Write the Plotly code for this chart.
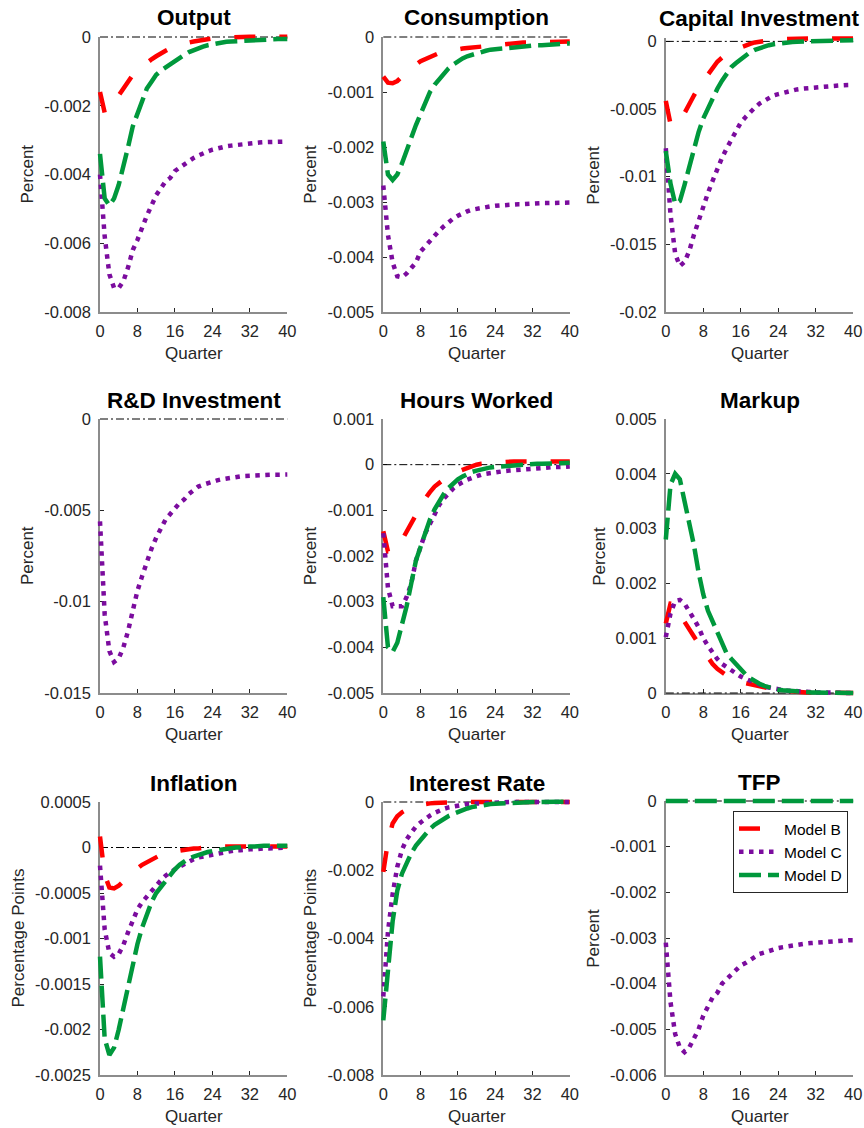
import plotly.graph_objects as go

W, H = 864, 1128

quarters = list(range(41))
x_tickvals = [0, 8, 16, 24, 32, 40]
x_ticktext = ["0", "8", "16", "24", "32", "40"]

model_names = {"B": "Model B", "C": "Model C", "D": "Model D"}

# ---- impulse responses, quarters 0..40 ----
output_b = [-0.0016, -0.0022, -0.0021, -0.0019, -0.0017, -0.0015, -0.0013, -0.0011, -0.00097, -0.00085,
            -0.00074, -0.00065, -0.00056, -0.00047, -0.0004, -0.00033, -0.00028, -0.00023, -0.00019, -0.00016,
            -0.00013, -0.0001, -0.00008, -0.00006, -0.00004, -0.00003, -0.00002, -0.00001, 0.0, 0.00001,
            0.00001, 0.00001, 0.00001, 0.00001, 0.00001, 0.00001, 0.00001, 0.00001, 0.00001, 0.00001,
            0.00001]
output_c = [-0.0040, -0.0058, -0.0069, -0.0073, -0.0073, -0.0071, -0.0067, -0.0062, -0.0059, -0.0055,
            -0.0052, -0.0049, -0.0046, -0.0044, -0.0042, -0.0041, -0.0039, -0.0038, -0.0037, -0.0036,
            -0.00352, -0.00345, -0.00338, -0.00333, -0.00328, -0.00324, -0.0032, -0.00318, -0.00316, -0.00314,
            -0.00312, -0.0031, -0.00309, -0.00308, -0.00307, -0.00306, -0.00306, -0.00305, -0.00305, -0.00305,
            -0.00304]
output_d = [-0.0034, -0.0047, -0.0049, -0.0047, -0.0043, -0.0038, -0.0032, -0.0026, -0.0022, -0.0018,
            -0.0015, -0.0013, -0.0011, -0.00098, -0.00088, -0.00078, -0.0007, -0.00061, -0.00052, -0.00044,
            -0.00038, -0.00032, -0.00028, -0.00024, -0.00021, -0.00018, -0.00016, -0.00014, -0.00013, -0.00012,
            -0.00011, -0.0001, -0.00009, -0.00008, -0.00008, -0.00007, -0.00007, -0.00007, -0.00006, -0.00006,
            -0.00006]

consumption_b = [-0.00072, -0.00083, -0.00084, -0.0008, -0.00072, -0.00064, -0.00057, -0.0005, -0.00044, -0.0004,
                 -0.00036, -0.00032, -0.00029, -0.00027, -0.00025, -0.00023, -0.00022, -0.00021, -0.0002, -0.00019,
                 -0.00018, -0.00017, -0.00016, -0.00015, -0.00014, -0.00013, -0.00013, -0.00012, -0.00011, -0.00011,
                 -0.0001, -0.0001, -0.0001, -0.00009, -0.00009, -0.00009, -0.00009, -0.00008, -0.00008, -0.00008,
                 -0.00008]
consumption_c = [-0.0027, -0.0036, -0.0041, -0.00435, -0.00437, -0.0043, -0.0042, -0.0041, -0.0039, -0.0038,
                 -0.0037, -0.0036, -0.00352, -0.00344, -0.00336, -0.0033, -0.00325, -0.0032, -0.00317, -0.00314,
                 -0.00312, -0.0031, -0.00309, -0.00308, -0.00307, -0.00306, -0.00305, -0.00305, -0.00304, -0.00304,
                 -0.00304, -0.00303, -0.00303, -0.00303, -0.00302, -0.00302, -0.00302, -0.00301, -0.00301, -0.00301,
                 -0.00301]
consumption_d = [-0.0019, -0.0025, -0.0026, -0.0025, -0.0023, -0.00205, -0.0018, -0.0016, -0.0014, -0.00118,
                 -0.001, -0.00087, -0.00076, -0.00066, -0.00057, -0.0005, -0.00044, -0.00039, -0.00035, -0.00032,
                 -0.00029, -0.00027, -0.00025, -0.00023, -0.00022, -0.00021, -0.0002, -0.00019, -0.00018, -0.00018,
                 -0.00017, -0.00016, -0.00016, -0.00015, -0.00015, -0.00014, -0.00014, -0.00013, -0.00013, -0.00012,
                 -0.00012]

capital_b = [-0.0044, -0.0061, -0.0062, -0.0059, -0.0053, -0.0046, -0.004, -0.0034, -0.0029, -0.0024,
             -0.0019, -0.0015, -0.0012, -0.00095, -0.00075, -0.00058, -0.00043, -0.0003, -0.00019, -0.00008,
             -0.00001, 0.00004, 0.00008, 0.00012, 0.00015, 0.00017, 0.00019, 0.0002, 0.00021, 0.00022,
             0.00022, 0.00022, 0.00022, 0.00022, 0.00022, 0.00022, 0.00022, 0.00022, 0.00022, 0.00022,
             0.00022]
capital_c = [-0.0079, -0.0128, -0.0157, -0.0166, -0.0163, -0.0155, -0.0143, -0.0132, -0.0122, -0.0112,
             -0.0103, -0.0094, -0.0086, -0.0079, -0.0073, -0.0066, -0.006, -0.0056, -0.0052, -0.0049,
             -0.0046, -0.0044, -0.0042, -0.0040, -0.0039, -0.0038, -0.0037, -0.0036, -0.00355, -0.0035,
             -0.00346, -0.00342, -0.00338, -0.00335, -0.00332, -0.0033, -0.00328, -0.00326, -0.00324, -0.00323,
             -0.00322]
capital_d = [-0.0081, -0.0105, -0.0120, -0.0118, -0.0106, -0.0093, -0.0079, -0.0067, -0.0057, -0.0049,
             -0.0041, -0.0035, -0.0029, -0.0024, -0.0019, -0.0016, -0.0013, -0.001, -0.0008, -0.00062,
             -0.00048, -0.00037, -0.00028, -0.00021, -0.00015, -0.0001, -0.00007, -0.00004, -0.00002, -0.00001,
             0.0, 0.00002, 0.00003, 0.00004, 0.00005, 0.00006, 0.00006, 0.00007, 0.00007, 0.00008,
             0.00008]

rnd_c = [-0.0056, -0.0107, -0.0127, -0.0133, -0.0131, -0.0125, -0.0116, -0.0105, -0.0094, -0.0086,
         -0.0078, -0.0071, -0.0065, -0.006, -0.0055, -0.0052, -0.0049, -0.0046, -0.0044, -0.0041,
         -0.0039, -0.0037, -0.0036, -0.0035, -0.00343, -0.00336, -0.0033, -0.00325, -0.0032, -0.00317,
         -0.00314, -0.00312, -0.0031, -0.00309, -0.00308, -0.00307, -0.00306, -0.00305, -0.00305, -0.00304,
         -0.00304]

hours_b = [-0.00146, -0.0019, -0.0019, -0.0018, -0.00165, -0.00148, -0.0013, -0.0011, -0.00088, -0.00072,
           -0.0006, -0.00048, -0.00039, -0.00031, -0.00024, -0.00019, -0.00015, -0.0001, -0.00006, -0.00003,
           0.0, 0.00002, 0.00003, 0.00004, 0.00005, 0.00006, 0.00006, 0.00007, 0.00007, 0.00007,
           0.00007, 0.00007, 0.00007, 0.00007, 0.00007, 0.00007, 0.00007, 0.00007, 0.00007, 0.00007,
           0.00007]
hours_c = [-0.0015, -0.0027, -0.0031, -0.0031, -0.0031, -0.0029, -0.0026, -0.0021, -0.0018, -0.0015,
           -0.0013, -0.00106, -0.00088, -0.00074, -0.00062, -0.00052, -0.00044, -0.00038, -0.00033, -0.00029,
           -0.00025, -0.00022, -0.0002, -0.00018, -0.00016, -0.00015, -0.00014, -0.00013, -0.00012, -0.00011,
           -0.0001, -0.00009, -0.00008, -0.00008, -0.00007, -0.00006, -0.00006, -0.00005, -0.00005, -0.00004,
           -0.00004]
hours_d = [-0.0029, -0.004, -0.0041, -0.0039, -0.0035, -0.0031, -0.0026, -0.0021, -0.0018, -0.0015,
           -0.0012, -0.00098, -0.0008, -0.00064, -0.00051, -0.0004, -0.00032, -0.00026, -0.0002, -0.00016,
           -0.00013, -0.0001, -0.00008, -0.00006, -0.00005, -0.00004, -0.00003, -0.00002, -0.00001, 0.0,
           0.0, 0.00001, 0.00001, 0.00002, 0.00002, 0.00002, 0.00003, 0.00003, 0.00003, 0.00004,
           0.00004]

markup_b = [0.00127, 0.00163, 0.00162, 0.00148, 0.0013, 0.00115, 0.00103, 0.0009, 0.00077, 0.00063,
            0.00053, 0.00044, 0.00037, 0.00032, 0.00027, 0.00023, 0.0002, 0.00018, 0.00016, 0.00013,
            0.00011, 0.00009, 0.00008, 0.00006, 0.00005, 0.00004, 0.00003, 0.00003, 0.00002, 0.00002,
            0.00001, 0.00001, 0.00001, 0.00001, 0.00001, 0.0, 0.0, 0.0, 0.0, 0.0,
            0.0]
markup_c = [0.00102, 0.00145, 0.00168, 0.0017, 0.00163, 0.0015, 0.00135, 0.0012, 0.001, 0.00086,
            0.00073, 0.00062, 0.00053, 0.00047, 0.00041, 0.00035, 0.0003, 0.00026, 0.00022, 0.00018,
            0.00015, 0.00012, 0.0001, 0.00008, 0.00007, 0.00005, 0.00004, 0.00004, 0.00003, 0.00002,
            0.00002, 0.00001, 0.00001, 0.00001, 0.00001, 0.0, 0.0, 0.0, 0.0, 0.0,
            0.0]
markup_d = [0.0028, 0.0038, 0.004, 0.0039, 0.0035, 0.0031, 0.0027, 0.0022, 0.0018, 0.0015,
            0.0013, 0.0011, 0.00087, 0.00072, 0.00062, 0.00052, 0.00043, 0.00034, 0.00027, 0.00021,
            0.00017, 0.00013, 0.0001, 0.00008, 0.00006, 0.00005, 0.00004, 0.00003, 0.00003, 0.00002,
            0.00002, 0.00001, 0.00001, 0.00001, 0.00001, 0.00001, 0.0, 0.0, 0.0, 0.0,
            0.0]

inflation_b = [0.00012, -0.0003, -0.00044, -0.00045, -0.00042, -0.00037, -0.00032, -0.00027, -0.00023, -0.00019,
               -0.00016, -0.00013, -0.0001, -0.00008, -0.00006, -0.00005, -0.00004, -0.00003, -0.00002, -0.00002,
               -0.00001, -0.00001, 0.0, 0.0, 0.00001, 0.00001, 0.00001, 0.00001, 0.00001, 0.00001,
               0.00001, 0.00001, 0.00001, 0.00001, 0.00001, 0.00001, 0.00001, 0.00001, 0.00001, 0.00001,
               0.00001]
inflation_c = [-0.0002, -0.0009, -0.00116, -0.0012, -0.00117, -0.00107, -0.00093, -0.00079, -0.00068, -0.0006,
               -0.00054, -0.00048, -0.00041, -0.00036, -0.00031, -0.00027, -0.00024, -0.00021, -0.00018, -0.00015,
               -0.00013, -0.00011, -0.0001, -0.00008, -0.00007, -0.00006, -0.00005, -0.00004, -0.00004, -0.00003,
               -0.00003, -0.00002, -0.00002, -0.00002, -0.00001, -0.00001, -0.00001, -0.00001, 0.0, 0.0,
               0.0]
inflation_d = [-0.0012, -0.0021, -0.00228, -0.0022, -0.002, -0.00177, -0.0015, -0.00126, -0.00106, -0.00088,
               -0.00073, -0.0006, -0.0005, -0.00043, -0.00036, -0.0003, -0.00024, -0.00019, -0.00015, -0.00012,
               -0.0001, -0.00008, -0.00006, -0.00005, -0.00004, -0.00003, -0.00002, -0.00001, -0.00001, 0.0,
               0.0, 0.00001, 0.00001, 0.00001, 0.00002, 0.00002, 0.00002, 0.00002, 0.00002, 0.00002,
               0.00002]

interest_b = [-0.00205, -0.00115, -0.00063, -0.00042, -0.0003, -0.00022, -0.00015, -0.0001, -0.00007, -0.00005,
              -0.00004, -0.00003, -0.00002, -0.00002, -0.00001, -0.00001, 0.0, 0.0, 0.0, 0.0,
              0.0, 0.0, 0.0, 0.0, 0.0, 0.0, 0.0, 0.0, 0.0, 0.0,
              0.0, 0.0, 0.0, 0.0, 0.0, 0.0, 0.0, 0.0, 0.0, 0.0,
              0.0]
interest_c = [-0.0057, -0.0038, -0.0027, -0.0019, -0.0014, -0.0011, -0.0009, -0.00072, -0.0006, -0.00049,
              -0.0004, -0.00032, -0.00025, -0.0002, -0.00016, -0.00013, -0.0001, -0.00008, -0.00006, -0.00005,
              -0.00004, -0.00003, -0.00002, -0.00002, -0.00001, -0.00001, 0.0, 0.0, 0.0, 0.0,
              0.0, 0.0, 0.0, 0.0, 0.0, 0.0, 0.0, 0.0, 0.0, 0.0,
              0.0]
interest_d = [-0.0064, -0.0048, -0.0035, -0.0026, -0.0021, -0.0018, -0.0015, -0.00128, -0.0011, -0.00093,
              -0.00079, -0.00067, -0.00057, -0.00048, -0.00041, -0.00035, -0.00029, -0.00024, -0.00019, -0.00015,
              -0.00012, -0.00009, -0.00007, -0.00006, -0.00005, -0.00004, -0.00003, -0.00002, -0.00002, -0.00001,
              -0.00001, 0.0, 0.0, 0.0, 0.00001, 0.00001, 0.00001, 0.00001, 0.00001, 0.00001,
              0.00001]

tfp_c = [-0.0031, -0.0044, -0.0051, -0.0054, -0.0055, -0.0054, -0.0052, -0.005, -0.0047, -0.0045,
         -0.0043, -0.0042, -0.004, -0.0039, -0.0038, -0.0037, -0.0036, -0.00355, -0.00348, -0.0034,
         -0.00335, -0.00332, -0.00328, -0.00325, -0.00322, -0.0032, -0.00318, -0.00316, -0.00314, -0.00313,
         -0.00312, -0.00311, -0.0031, -0.00309, -0.00308, -0.00307, -0.00307, -0.00306, -0.00306, -0.00305,
         -0.00305]
tfp_d = [0.0] * 41

# ---- panel definitions ----
panels = [
    dict(title="Output", ylabel="Percent", yrange=(-0.008, 0.0),
         yticks=[-0.008, -0.006, -0.004, -0.002, 0], yticktext=["-0.008", "-0.006", "-0.004", "-0.002", "0"],
         series={"B": output_b, "C": output_c, "D": output_d}),
    dict(title="Consumption", ylabel="Percent", yrange=(-0.005, 0.0),
         yticks=[-0.005, -0.004, -0.003, -0.002, -0.001, 0],
         yticktext=["-0.005", "-0.004", "-0.003", "-0.002", "-0.001", "0"],
         series={"B": consumption_b, "C": consumption_c, "D": consumption_d}),
    dict(title="Capital Investment", ylabel="Percent", yrange=(-0.02, 0.00025),
         yticks=[-0.02, -0.015, -0.01, -0.005, 0], yticktext=["-0.02", "-0.015", "-0.01", "-0.005", "0"],
         series={"B": capital_b, "C": capital_c, "D": capital_d}),
    dict(title="R&D Investment", ylabel="Percent", yrange=(-0.015, 0.0),
         yticks=[-0.015, -0.01, -0.005, 0], yticktext=["-0.015", "-0.01", "-0.005", "0"],
         series={"C": rnd_c}),
    dict(title="Hours Worked", ylabel="Percent", yrange=(-0.005, 0.001),
         yticks=[-0.005, -0.004, -0.003, -0.002, -0.001, 0, 0.001],
         yticktext=["-0.005", "-0.004", "-0.003", "-0.002", "-0.001", "0", "0.001"],
         series={"B": hours_b, "C": hours_c, "D": hours_d}),
    dict(title="Markup", ylabel="Percent", yrange=(0.0, 0.005),
         yticks=[0, 0.001, 0.002, 0.003, 0.004, 0.005],
         yticktext=["0", "0.001", "0.002", "0.003", "0.004", "0.005"],
         series={"B": markup_b, "C": markup_c, "D": markup_d}),
    dict(title="Inflation", ylabel="Percentage Points", yrange=(-0.0025, 0.0005),
         yticks=[-0.0025, -0.002, -0.0015, -0.001, -0.0005, 0, 0.0005],
         yticktext=["-0.0025", "-0.002", "-0.0015", "-0.001", "-0.0005", "0", "0.0005"],
         series={"B": inflation_b, "C": inflation_c, "D": inflation_d}),
    dict(title="Interest Rate", ylabel="Percentage Points", yrange=(-0.008, 0.0),
         yticks=[-0.008, -0.006, -0.004, -0.002, 0], yticktext=["-0.008", "-0.006", "-0.004", "-0.002", "0"],
         series={"B": interest_b, "C": interest_c, "D": interest_d}),
    dict(title="TFP", ylabel="Percent", yrange=(-0.006, 0.0),
         yticks=[-0.006, -0.005, -0.004, -0.003, -0.002, -0.001, 0],
         yticktext=["-0.006", "-0.005", "-0.004", "-0.003", "-0.002", "-0.001", "0"],
         series={"C": tfp_c, "D": tfp_d}),
]

# axes boxes in pixels: (left, top, right, bottom), plus y-label offset from the spine
boxes = [
    (100, 37, 287.3, 312), (383.3, 37, 569.8, 312), (665.8, 38, 853.2, 312),
    (100, 419, 287.3, 693), (383.3, 419, 569.8, 693), (665.8, 419, 853.2, 693),
    (100, 802, 287.3, 1075), (383.3, 802, 569.8, 1075), (665.8, 801, 853.2, 1075),
]
ylabel_offsets = [73, 73, 73, 73, 73, 67, 82, 73, 73]

styles = {
    "B": dict(color="#FF0000", width=4.5, dash="21px,24px"),
    "C": dict(color="#7B0C9E", width=4.5, dash="4.5px,5.5px"),
    "D": dict(color="#00983C", width=4.5, dash="22px,7px"),
}

FONT = "Liberation Sans, Arial, Helvetica, sans-serif"
PAD = 6  # extra room so thick lines at the axis limits are not cut in half


def px_x(x):
    return x / W


def px_y(y):
    return 1 - y / H


fig = go.Figure()
layout = {}
annotations = []

for k, (panel, box, yoff) in enumerate(zip(panels, boxes, ylabel_offsets), start=1):
    L, T, R, B = box
    y0, y1 = panel["yrange"]
    sx = 40 / (R - L)
    sy = (y1 - y0) / (B - T)

    # visible axes: spines, ticks and tick labels
    xk = "xaxis" if k == 1 else f"xaxis{k}"
    yk = "yaxis" if k == 1 else f"yaxis{k}"
    xa = "x" if k == 1 else f"x{k}"
    ya = "y" if k == 1 else f"y{k}"
    common = dict(showgrid=False, zeroline=False, showline=True, linecolor="#8c8c8c", linewidth=1.5,
                  ticks="inside", ticklen=4, tickwidth=1, tickcolor="#262626", automargin=False,
                  tickfont=dict(family=FONT, size=16.5, color="#262626"), fixedrange=True)
    layout[xk] = dict(domain=[px_x(L), px_x(R)], range=[0, 40], anchor=ya, ticklabelstandoff=3,
                      tickmode="array", tickvals=x_tickvals, ticktext=x_ticktext, **common)
    layout[yk] = dict(domain=[px_y(B), px_y(T)], range=[y0, y1], anchor=xa, ticklabelstandoff=4,
                      tickmode="array", tickvals=panel["yticks"], ticktext=panel["yticktext"], **common)
    # an empty trace so the axes frame is drawn
    fig.add_trace(go.Scatter(x=[], y=[], mode="lines", xaxis=xa, yaxis=ya,
                             showlegend=False, hoverinfo="skip"))

    # hidden data axes, same scale but a little larger so line caps stay whole
    d = k + 9
    layout[f"xaxis{d}"] = dict(domain=[px_x(L - PAD), px_x(R + PAD)], range=[-PAD * sx, 40 + PAD * sx],
                               anchor=f"y{d}", visible=False, fixedrange=True, automargin=False)
    layout[f"yaxis{d}"] = dict(domain=[px_y(B + PAD), px_y(T - PAD)], range=[y0 - PAD * sy, y1 + PAD * sy],
                               anchor=f"x{d}", visible=False, fixedrange=True, automargin=False)

    # zero reference line
    fig.add_trace(go.Scatter(x=[0, 40], y=[0, 0], mode="lines", xaxis=f"x{d}", yaxis=f"y{d}",
                             line=dict(color="black", width=1, dash="8px,3px,2px,3px"),
                             showlegend=False, hoverinfo="skip"))
    for key in ["B", "C", "D"]:
        if key not in panel["series"]:
            continue
        fig.add_trace(go.Scatter(x=quarters, y=panel["series"][key], mode="lines",
                                 xaxis=f"x{d}", yaxis=f"y{d}", name=model_names[key],
                                 line=styles[key], showlegend=(k == 1)))

    cx = (L + R) / 2
    annotations.append(dict(text=f"<b>{panel['title']}</b>", x=px_x(cx), y=px_y(T - 19),
                            xref="paper", yref="paper", xanchor="center", yanchor="middle",
                            showarrow=False, font=dict(family=FONT, size=22.5, color="black")))
    annotations.append(dict(text="Quarter", x=px_x(cx), y=px_y(B + 41),
                            xref="paper", yref="paper", xanchor="center", yanchor="middle",
                            showarrow=False, font=dict(family=FONT, size=17, color="#262626")))
    annotations.append(dict(text=panel["ylabel"], x=px_x(L - yoff), y=px_y((T + B) / 2),
                            xref="paper", yref="paper", xanchor="center", yanchor="middle",
                            textangle=-90, showarrow=False,
                            font=dict(family=FONT, size=17, color="#262626")))

fig.update_layout(
    width=W, height=H, margin=dict(l=0, r=0, t=0, b=0, pad=0, autoexpand=False),
    paper_bgcolor="white", plot_bgcolor="rgba(0,0,0,0)",
    annotations=annotations,
    legend=dict(x=px_x(848), y=px_y(811), xanchor="right", yanchor="top",
                bgcolor="white", bordercolor="#262626", borderwidth=1,
                font=dict(family=FONT, size=15.5, color="black"), itemwidth=40, tracegroupgap=0),
    **layout,
)

fig.write_html("out.html")
